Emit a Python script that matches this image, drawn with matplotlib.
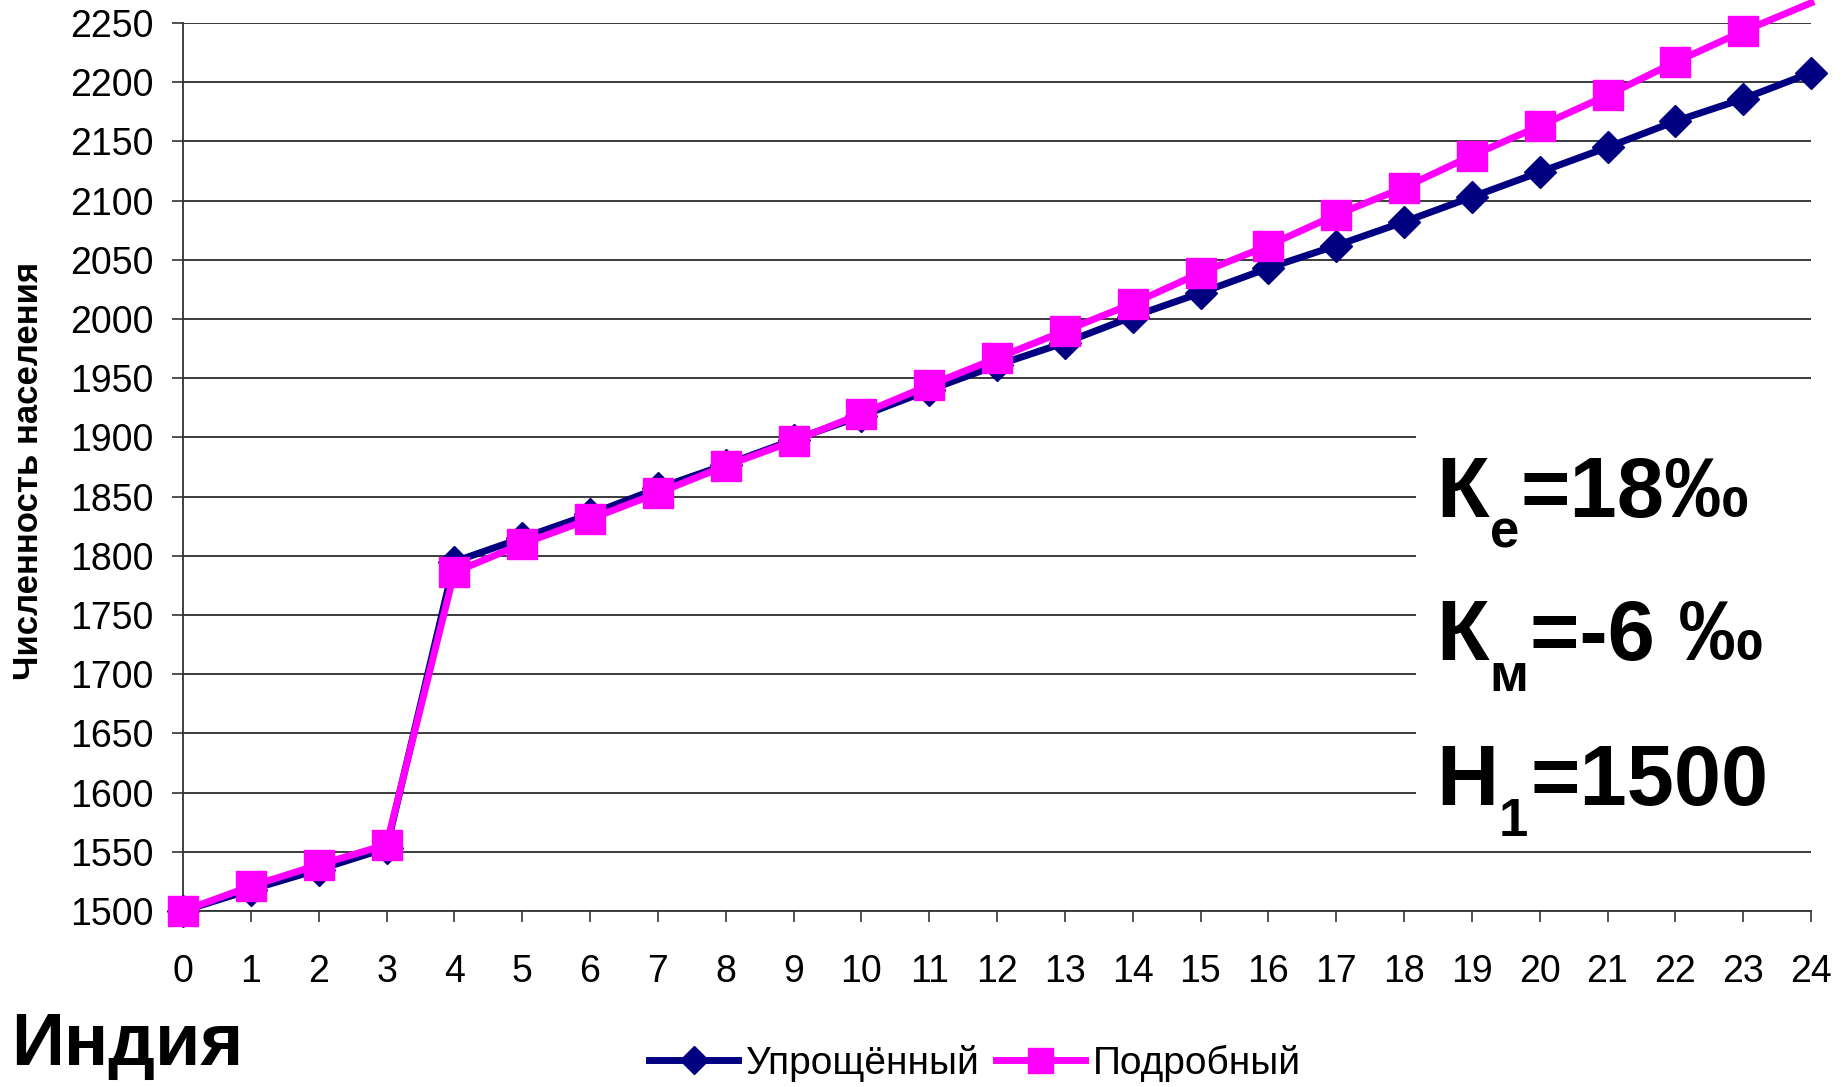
import matplotlib
matplotlib.use('Agg')
import matplotlib.pyplot as plt
from matplotlib import font_manager
from matplotlib.font_manager import FontProperties
from matplotlib.patches import Rectangle
from matplotlib.lines import Line2D

# ---------------- data ----------------
years = list(range(25))
simplified = [1500, 1518, 1535, 1553, 1795, 1815, 1835, 1857, 1877, 1898,
              1918, 1940, 1961, 1980, 2002, 2022, 2043, 2062, 2082, 2103,
              2124, 2145, 2167, 2186, 2208]
detailed = [1500, 1521, 1539, 1556, 1786, 1810, 1831, 1853, 1876, 1897,
            1920, 1944, 1967, 1990, 2013, 2039, 2062, 2088, 2111, 2138,
            2163, 2189, 2217, 2243, 2267]
yticks = list(range(1500, 2251, 50))
series_names = ['Упрощённый', 'Подробный']
country = 'Индия'
ylabel_text = 'Численность населения'
params = [('К', 'е', '=18‰'), ('К', 'м', '=-6 ‰'), ('Н', '1', '=1500')]


def available(name):
    try:
        font_manager.findfont(FontProperties(family=name), fallback_to_default=False)
        return True
    except Exception:
        return False


base = 'Liberation Sans' if available('Liberation Sans') else 'DejaVu Sans'
plt.rcParams['font.family'] = [base, 'DejaVu Sans']

W, H = 1845, 1087
fig = plt.figure(figsize=(W / 100, H / 100), dpi=100)
fig.patch.set_facecolor('white')
ax = fig.add_axes([183 / W, 1 - 911 / H, (1811 - 183) / W, (911 - 23) / H])

navy = '#000080'
pink = '#FF00FF'

ax.set_xlim(0, 24)
ax.set_ylim(1500, 2250)
ax.set_xticks(years)
ax.set_yticks(yticks)
ax.grid(axis='y', color='#2b2b2b', lw=1.3)
ax.set_axisbelow(True)
for s in ['top', 'right']:
    ax.spines[s].set_visible(False)
for s in ['left', 'bottom']:
    ax.spines[s].set_color('#333333')
    ax.spines[s].set_linewidth(1.3)
ax.tick_params(axis='both', direction='out', length=8, width=1.2,
               color='#333333', labelsize=27)
ax.tick_params(axis='y', pad=13)
ax.tick_params(axis='x', pad=23)

# white box behind the parameter text
ax.add_patch(Rectangle((18.17, 1552), 6.2, 375, facecolor='white',
                       edgecolor='none', zorder=1, clip_on=False))

ax.plot(years, simplified, color=navy, lw=5, marker='D', ms=16,
        markeredgecolor=navy, zorder=3, clip_on=False)
in_range = [i for i, v in enumerate(detailed) if v <= 2250]
ax.plot(years, detailed, color=pink, lw=5, marker='s', ms=22,
        markeredgecolor=pink, markevery=in_range, zorder=4, clip_on=False)

# y label
fig.text(29 / W, 1 - 471 / H, ylabel_text, rotation=90, fontsize=25,
         fontweight='bold', ha='center', va='center')

# country name
fig.text(11 / W, 1 - 1065 / H, country, fontsize=53,
         fontweight='bold', ha='left', va='baseline')

# legend
handles = [Line2D([], [], color=navy, lw=5, marker='D', ms=14, markeredgecolor=navy),
           Line2D([], [], color=pink, lw=5, marker='s', ms=18, markeredgecolor=pink)]
fig.legend(handles, series_names, loc='center',
           bbox_to_anchor=(975 / W, 1 - 1063 / H), ncol=2, frameon=False,
           prop=FontProperties(family=[base, 'DejaVu Sans'], size=28),
           handlelength=2.3, handletextpad=0.2, columnspacing=0.4,
           borderpad=0.1)

# parameter text with subscripts
fig.canvas.draw()
r = fig.canvas.get_renderer()
baselines = [517, 660, 805]
x0 = 1436
for (main, sub, rest), by in zip(params, baselines):
    t1 = fig.text(x0 / W, 1 - by / H, main, fontsize=62, fontweight='bold',
                  ha='left', va='baseline')
    bb1 = t1.get_window_extent(r)
    t2 = fig.text((bb1.x1 + 1) / W, 1 - (by + 31) / H, sub, fontsize=38,
                  fontweight='bold', ha='left', va='baseline')
    bb2 = t2.get_window_extent(r)
    fig.text((bb2.x1 + 2) / W, 1 - by / H, rest, fontsize=61,
             fontweight='bold', ha='left', va='baseline')

fig.savefig('out.png', dpi=100, facecolor='white')
